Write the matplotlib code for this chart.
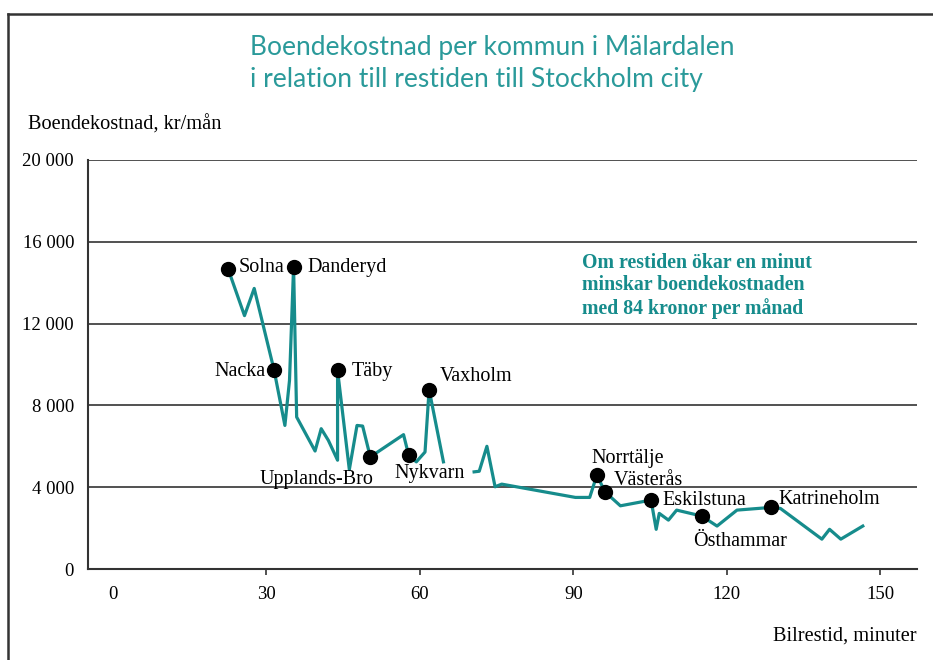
import matplotlib
matplotlib.use('Agg')
import matplotlib.pyplot as plt
from matplotlib.lines import Line2D
import numpy as np

# Restid (minuter) och boendekostnad (kr/mån), nan = avbrott i linjen
restid = [22.5, 25.7, 27.6, 31.5, 33.6, 34.5, 35.3, 35.9, 39.5, 40.7, 42.1, 43.9,
          43.9, 46.2, 47.7, 48.8, 50.3, 56.8, 57.4, 57.8, 59.3, 61.0, 61.8, 64.6,
          np.nan,
          70.6, 71.6, 73.1, 74.7, 76.0, 90.4, 93.2, 94.6, 96.2, 99.2, 105.2, 106.2,
          106.8, 108.6, 110.2, 115.1, 118.1, 122.0, 128.6, 130.5, 138.6, 140.1,
          142.3, 146.6]
kostnad = [14670, 12390, 13720, 9710, 7020, 9220, 14780, 7430, 5770, 6860, 6290, 5320,
           9710, 4860, 7020, 6990, 5480, 6570, 5970, 5560, 5240, 5720, 8770, 5240,
           np.nan,
           4750, 4780, 6000, 4020, 4150, 3500, 3500, 4590, 3770, 3090, 3370, 1940,
           2720, 2390, 2880, 2590, 2100, 2880, 3010, 2960, 1460, 1940,
           1460, 2100]

# Namngivna kommuner
kommuner = ['Solna', 'Danderyd', 'Nacka', 'Täby', 'Vaxholm', 'Upplands-Bro', 'Nykvarn',
            'Norrtälje', 'Västerås', 'Eskilstuna', 'Östhammar', 'Katrineholm']
kommun_x = [22.5, 35.3, 31.5, 43.9, 61.8, 50.3, 57.8, 94.6, 96.2, 105.2, 115.1, 128.6]
kommun_y = [14670, 14780, 9710, 9710, 8770, 5480, 5560, 4590, 3770, 3370, 2590, 3010]
# etikettens förskjutning i pixlar och justering
kommun_off = [(10, 1), (14, -1), (-9, -1), (14, -1), (11, 13), (-54, -23), (21, -18),
              (-5, 17), (9, 11), (11, 0), (-9, -25), (8, 8)]
kommun_ha = ['left', 'left', 'right', 'left', 'left', 'center', 'center',
             'left', 'left', 'left', 'left', 'left']

x_ticks = [0, 30, 60, 90, 120, 150]
y_ticks = [0, 4000, 8000, 12000, 16000, 20000]

teal = '#168c8c'
grey = '#333333'
serif = 'Liberation Serif'

fig = plt.figure(figsize=(9.33, 6.6), dpi=100)
ax = fig.add_axes([88/933, 1-569/660, (917-88)/933, (569-160)/660])

ax.plot(restid, kostnad, color=teal, lw=2.3, zorder=3)
ax.plot(kommun_x, kommun_y, 'o', color='black', ms=10, zorder=4)

for namn, x, y, off, ha in zip(kommuner, kommun_x, kommun_y, kommun_off, kommun_ha):
    ax.annotate(namn, (x, y), xytext=off, textcoords='offset pixels',
                ha=ha, va='center', fontsize=14.5, family=serif, zorder=5)

ax.set_xlim(-4.9, 157.2)
ax.set_ylim(0, 20000)
ax.set_xticks(x_ticks)
ax.set_xticklabels([str(t) for t in x_ticks], family=serif, fontsize=13.5)
ax.set_yticks(y_ticks)
ax.set_yticklabels([f'{t:,}'.replace(',', ' ') for t in y_ticks], family=serif, fontsize=13.5)
ax.tick_params(axis='x', length=4, width=1.2, color=grey, pad=8)
ax.tick_params(axis='y', length=0, pad=10)
ax.xaxis.get_major_ticks()[0].tick1line.set_visible(False)

for s in ['top', 'right']:
    ax.spines[s].set_visible(False)
for s in ['left', 'bottom']:
    ax.spines[s].set_color(grey)
    ax.spines[s].set_linewidth(1.5)
ax.yaxis.grid(True, color=grey, lw=1.2)
ax.set_axisbelow(True)

ax.text(582/933, 1-286/660, 'Om restiden ökar en minut\nminskar boendekostnaden\nmed 84 kronor per månad',
        transform=fig.transFigure, ha='left', va='center', fontsize=14.3, fontweight='bold',
        family=serif, color=teal, linespacing=1.15)

fig.text(250/933, 1-64/660, 'Boendekostnad per kommun i Mälardalen\ni relation till restiden till Stockholm city',
         ha='left', va='center', fontsize=19, color='#2a9a9a', family='Lato',
         linespacing=1.35)
fig.text(28/933, 1-125/660, 'Boendekostnad, kr/mån', ha='left', va='center',
         fontsize=14.7, family=serif)
fig.text(917/933, 1-636/660, 'Bilrestid, minuter', ha='right', va='center',
         fontsize=14.7, family=serif)

# ram
fig.add_artist(Line2D([8/933, 1], [1-14/660, 1-14/660], color=grey, lw=1.8))
fig.add_artist(Line2D([8/933, 8/933], [0, 1-14/660], color=grey, lw=1.8))

fig.savefig('out.png', dpi=100)
